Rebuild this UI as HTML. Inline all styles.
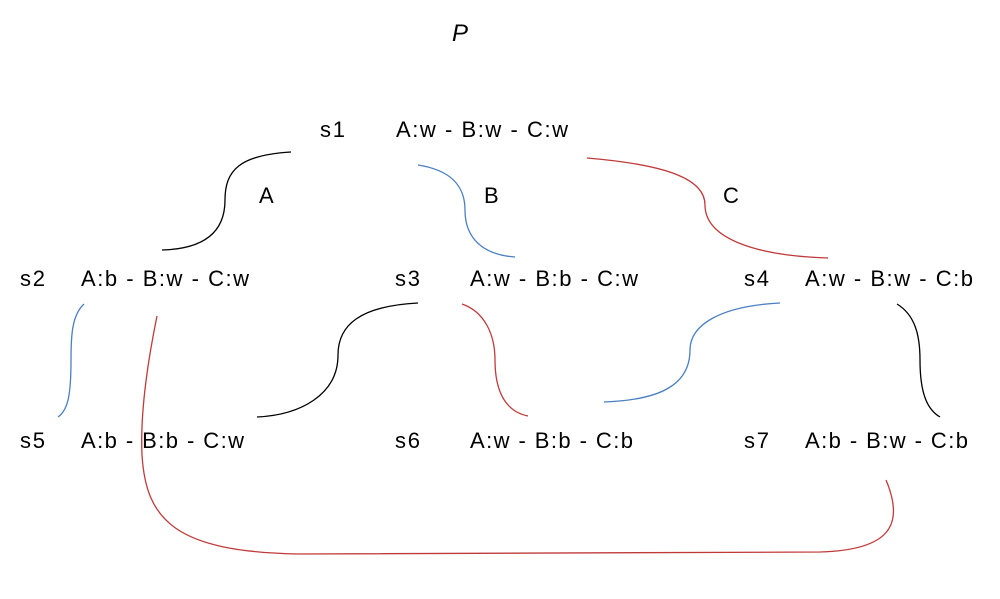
<!DOCTYPE html>
<html>
<head>
<meta charset="utf-8">
<style>
  html,body{margin:0;padding:0;background:#fff;}
  svg{display:block;font-family:"Liberation Sans",sans-serif;}
  text{font-size:22px;fill:#000;}
  path{fill:none;stroke-width:1.3;}
</style>
</head>
<body>
<svg width="1000" height="599" viewBox="0 0 1000 599">
  <text x="452" y="41" style="font-size:24px;font-style:italic">P</text>

  <text x="320" y="137" textLength="25">s1</text>
  <text x="396" y="137" textLength="172" lengthAdjust="spacing">A:w - B:w - C:w</text>

  <text x="20" y="286" textLength="25">s2</text>
  <text x="81" y="286" textLength="168" lengthAdjust="spacing">A:b - B:w - C:w</text>
  <text x="395" y="286" textLength="25">s3</text>
  <text x="470" y="286" textLength="168" lengthAdjust="spacing">A:w - B:b - C:w</text>
  <text x="744" y="286" textLength="25">s4</text>
  <text x="805" y="286" textLength="168" lengthAdjust="spacing">A:w - B:w - C:b</text>

  <text x="20" y="448" textLength="25">s5</text>
  <text x="81" y="448" textLength="163" lengthAdjust="spacing">A:b - B:b - C:w</text>
  <text x="395" y="448" textLength="25">s6</text>
  <text x="470" y="448" textLength="163" lengthAdjust="spacing">A:w - B:b - C:b</text>
  <text x="744" y="448" textLength="25">s7</text>
  <text x="805" y="448" textLength="163" lengthAdjust="spacing">A:b - B:w - C:b</text>

  <text x="259" y="203">A</text>
  <text x="484" y="203">B</text>
  <text x="723" y="203">C</text>

  <path d="M291,152 C240,155 225,170 225,200 C225,235 200,249 162,250" stroke="#000"/>
  <path d="M418,165 C450,170 465,185 465,210 C465,240 485,255 515,257" stroke="#4a7fc1"/>
  <path d="M587,158 C670,165 705,180 705,205 C705,240 760,256 828,258" stroke="#c03a3a"/>

  <path d="M84,304 C72,315 71,335 71,360 C71,395 68,410 58,417" stroke="#4a7fc1"/>
  <path d="M157,316 C148,360 140,410 142,455 C146,520 175,552 300,554 L820,552 C890,550 905,525 886,480" stroke="#c03a3a"/>
  <path d="M418,303 C360,306 338,325 338,355 C338,395 300,415 257,417" stroke="#000"/>
  <path d="M462,304 C485,312 495,335 495,360 C495,395 508,412 528,416" stroke="#c03a3a"/>
  <path d="M780,303 C720,306 690,325 690,350 C690,385 660,400 604,402" stroke="#4a7fc1"/>
  <path d="M897,304 C915,315 920,335 920,360 C920,395 928,410 940,417" stroke="#000"/>
</svg>
</body>
</html>
